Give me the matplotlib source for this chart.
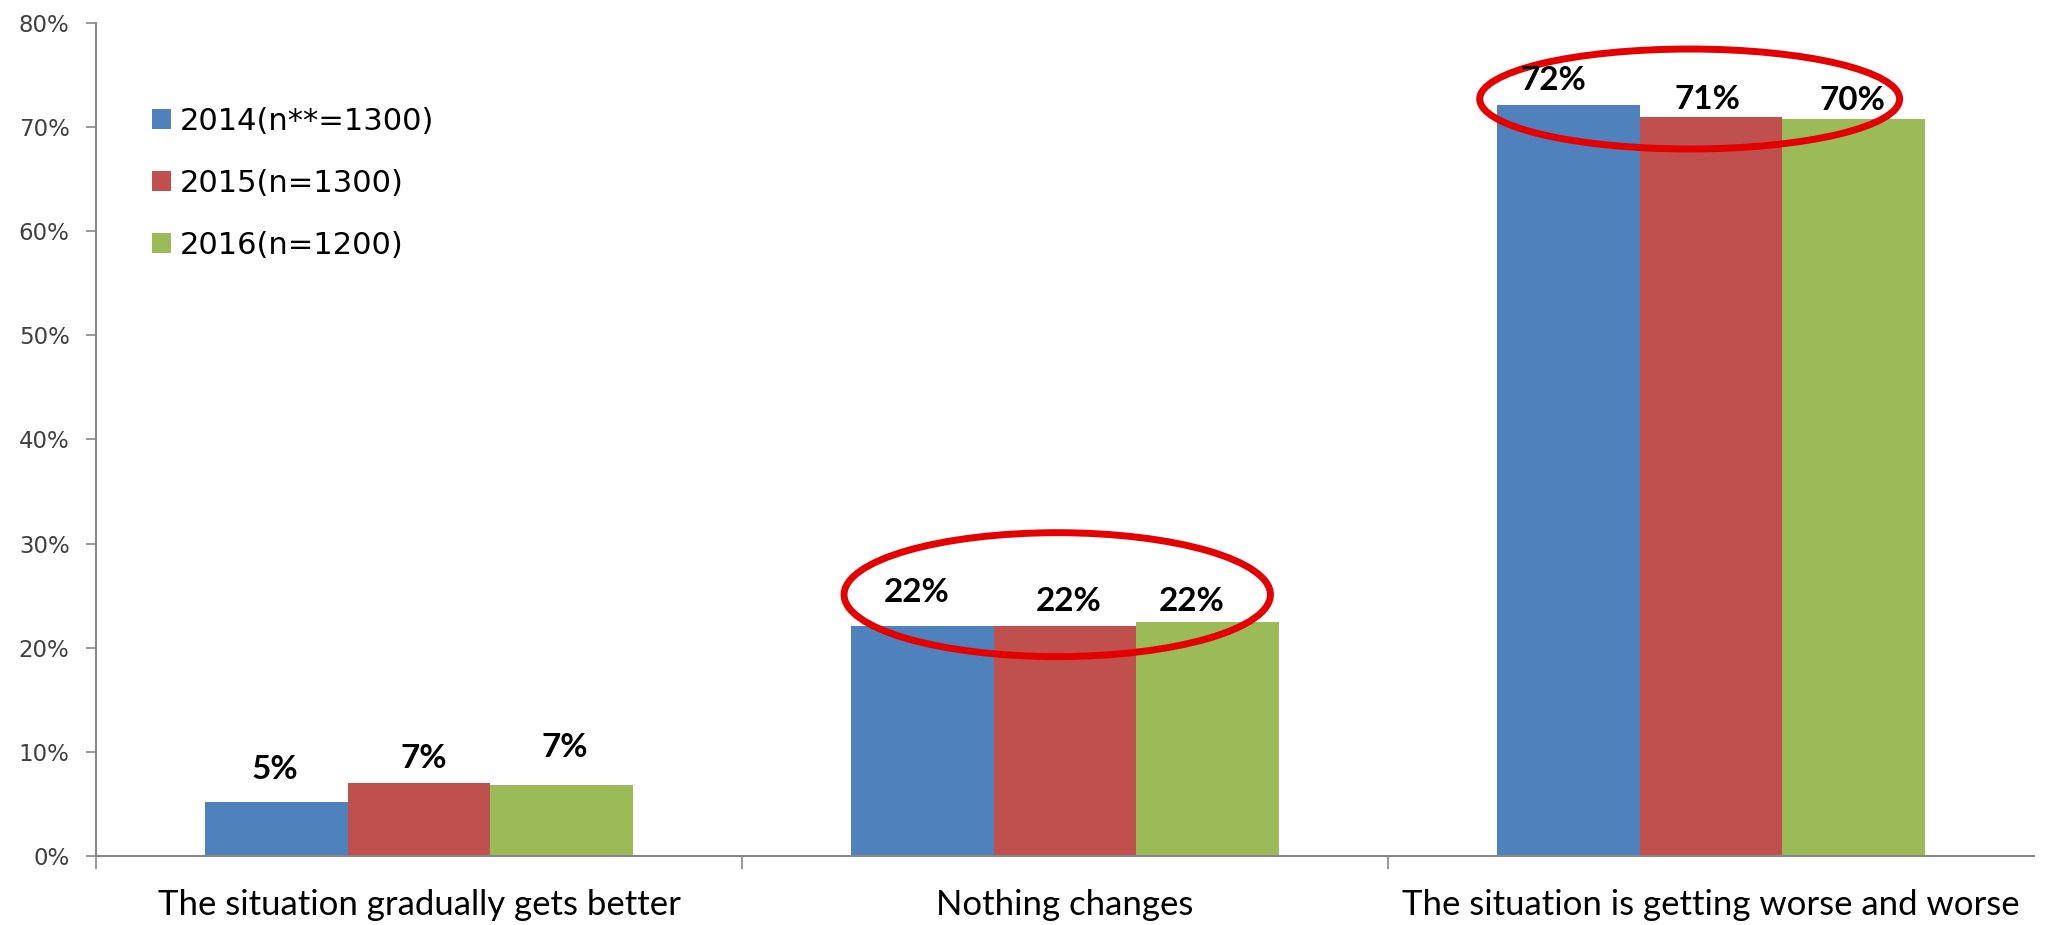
import matplotlib
matplotlib.use("Agg")
import matplotlib.pyplot as plt
import numpy as np
from matplotlib.patches import Ellipse

# data
categories = ["The situation gradually gets better", "Nothing changes",
              "The situation is getting worse and worse"]
series = ["2014(n**=1300)", "2015(n=1300)", "2016(n=1200)"]
v2014 = [5.2, 22.1, 72.1]
v2015 = [7.0, 22.1, 71.0]
v2016 = [6.8, 22.5, 70.8]
lab2014 = ["5%", "22%", "72%"]
lab2015 = ["7%", "22%", "71%"]
lab2016 = ["7%", "22%", "70%"]

colors = ["#4f81bd", "#c0504d", "#9bbb59"]
# label nudges in pixels (dx, dy above bar top)
nudges = [[(-1, 32), (-6, 33), (-15, 25)],
          [(5, 25), (4, 24), (-4, 17)],
          [(3, 38), (-16, 20), (-1, 18)]]

txtfont = ["Lato", "DejaVu Sans"]

fig = plt.figure(figsize=(20.49, 9.25), dpi=100)
ax = fig.add_axes([96 / 2049, 69 / 925, 1938 / 2049, 833 / 925])

x = np.arange(len(categories))
w = 0.221
vals = [v2014, v2015, v2016]
labs = [lab2014, lab2015, lab2016]
for i in range(3):
    bars = ax.bar(x + (i - 1) * w, vals[i], w, color=colors[i], label=series[i])
    for j, b in enumerate(bars):
        dx, dy = nudges[i][j]
        ax.annotate(labs[i][j], (b.get_x() + b.get_width() / 2, b.get_height()),
                    xytext=(dx, dy), textcoords="offset pixels",
                    ha="center", va="center", fontsize=24, fontweight="bold",
                    family=txtfont, color="black")

# red highlight ellipses
ax.add_patch(Ellipse((0.988, 25.1), 0.66, 11.9, fill=False, ec="#e50000", lw=5, clip_on=False))
ax.add_patch(Ellipse((1.967, 72.7), 0.65, 9.6, fill=False, ec="#e50000", lw=5, clip_on=False))

ax.set_xlim(-0.5, 2.5)
ax.set_ylim(0, 80)
ax.set_yticks(np.arange(0, 81, 10))
ax.set_yticklabels([f"{t}%" for t in range(0, 81, 10)], fontsize=16.5, color="#404040")
ax.tick_params(axis="y", direction="out", length=7, width=1.2, color="#878787", pad=12)

ax.set_xticks(x)
ax.set_xticklabels(categories, fontsize=25, family=txtfont)
ax.tick_params(axis="x", which="major", length=0, pad=24)
ax.set_xticks([-0.5, 0.5, 1.5], minor=True)
ax.tick_params(axis="x", which="minor", direction="out", length=9, width=1.2, color="#878787")

for s in ["top", "right"]:
    ax.spines[s].set_visible(False)
for s in ["left", "bottom"]:
    ax.spines[s].set_color("#878787")
    ax.spines[s].set_linewidth(1.5)

ax.legend(loc="upper left", bbox_to_anchor=(0.021, 0.918), frameon=False,
          fontsize=22, handlelength=0.62, handleheight=0.62, handletextpad=0.28,
          labelspacing=1.08, borderpad=0)

fig.savefig("out.png", dpi=100)
